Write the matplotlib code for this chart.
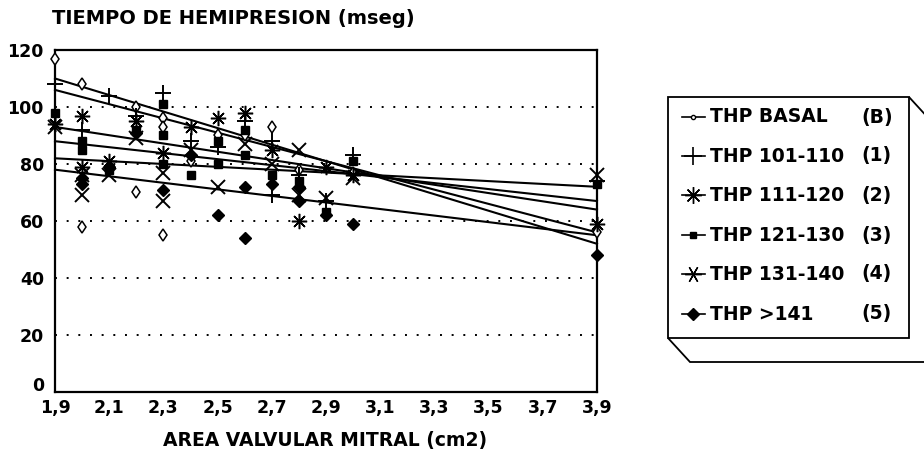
import matplotlib
matplotlib.use('Agg')
import matplotlib.pyplot as plt
import matplotlib.transforms as mtransforms
from matplotlib.lines import Line2D
from matplotlib.patches import Polygon

plt.rcParams['font.family'] = ['DejaVu Sans']

# ---------------- data ----------------
x_ticks = [1.9, 2.1, 2.3, 2.5, 2.7, 2.9, 3.1, 3.3, 3.5, 3.7, 3.9]
x_tick_labels = ['1,9', '2,1', '2,3', '2,5', '2,7', '2,9', '3,1', '3,3', '3,5', '3,7', '3,9']
y_ticks = [0, 20, 40, 60, 80, 100, 120]

series_names = ['THP BASAL', 'THP 101-110', 'THP 111-120', 'THP 121-130', 'THP 131-140', 'THP >141']
series_tags = ['(B)', '(1)', '(2)', '(3)', '(4)', '(5)']

basal_x = [1.9, 2.0, 2.0, 2.2, 2.2, 2.3, 2.3, 2.3, 2.4, 2.5, 2.6, 2.7, 2.8, 3.0, 3.9]
basal_y = [117, 108, 58, 100, 70, 96, 93, 55, 81, 90, 90, 93, 78, 77, 56]

s1_x = [1.9, 2.0, 2.1, 2.2, 2.3, 2.4, 2.5, 2.6, 2.7, 2.7, 2.8, 2.9, 3.0, 3.9]
s1_y = [108, 92, 104, 97, 105, 88, 86, 95, 88, 69, 76, 67, 83, 74]

s2_x = [1.9, 2.0, 2.0, 2.1, 2.2, 2.3, 2.4, 2.5, 2.6, 2.7, 2.8, 2.9, 3.0, 3.9]
s2_y = [94, 97, 79, 81, 95, 84, 93, 96, 98, 85, 60, 79, 76, 59]

s3_x = [1.9, 2.0, 2.0, 2.1, 2.2, 2.3, 2.3, 2.3, 2.4, 2.5, 2.5, 2.6, 2.6, 2.7, 2.8, 2.9, 3.0, 3.9]
s3_y = [98, 88, 85, 78, 92, 101, 90, 80, 76, 80, 88, 83, 92, 76, 74, 63, 81, 73]

s4_x = [1.9, 2.0, 2.0, 2.1, 2.2, 2.3, 2.3, 2.4, 2.5, 2.6, 2.7, 2.8, 2.8, 2.9, 3.0, 3.9]
s4_y = [93, 69, 76, 76, 89, 67, 77, 85, 72, 87, 80, 85, 69, 68, 75, 76]

s5_x = [2.0, 2.0, 2.1, 2.2, 2.3, 2.4, 2.5, 2.6, 2.6, 2.7, 2.8, 2.8, 2.9, 3.0, 3.9]
s5_y = [73, 75, 79, 91, 71, 83, 62, 54, 72, 73, 72, 67, 62, 59, 48]

# regression lines: value at x=1.9 and at x=3.9
trend_x = [1.9, 3.9]
trend_start = [110, 106, 93, 88, 82, 78]
trend_end = [52, 56, 64, 67, 72, 55]

# ---------------- figure ----------------
W, H = 924, 461
fig = plt.figure(figsize=(W / 100, H / 100), dpi=100)


def fx(px):
    return px / W


def fy(py):
    return 1 - py / H


L, R, T, B = 55, 597, 50, 392
ax = fig.add_axes([fx(L), fy(B), fx(R) - fx(L), fy(T) - fy(B)])
ax.set_xlim(1.9, 3.9)
ax.set_ylim(0, 120)

TICK_FS = 12.5
ax.set_xticks(x_ticks)
ax.set_xticklabels(x_tick_labels, fontsize=TICK_FS, fontweight='bold')
ax.set_yticks(y_ticks)
ax.set_yticklabels([str(v) for v in y_ticks], fontsize=TICK_FS, fontweight='bold')
ax.tick_params(length=0)
ax.tick_params(axis='x', pad=5)
ax.tick_params(axis='y', pad=8)
# raise the "0" label slightly, as in the original
zero_lbl = ax.get_yticklabels()[0]
zero_lbl.set_transform(zero_lbl.get_transform() +
                       mtransforms.ScaledTranslation(0, 8 / 100, fig.dpi_scale_trans))

for s in ax.spines.values():
    s.set_linewidth(1.6)

for g in [20, 40, 60, 80, 100]:
    ax.axhline(g, color='black', lw=1.4, ls=(0, (1, 5)), zorder=1)

styles = [
    dict(marker='d', ms=6, mfc='white', mec='black', mew=1.1),
    dict(marker='+', ms=11, mec='black', mew=1.4),
    dict(marker=(8, 2, 0), ms=11, mec='black', mew=1.1),
    dict(marker='s', ms=6, mfc='black', mec='black'),
    dict(marker='x', ms=10, mec='black', mew=1.4),
    dict(marker='D', ms=6.5, mfc='black', mec='black'),
]
xs = [basal_x, s1_x, s2_x, s3_x, s4_x, s5_x]
ys = [basal_y, s1_y, s2_y, s3_y, s4_y, s5_y]

for i in range(6):
    ax.plot(xs[i], ys[i], ls='none', clip_on=False, zorder=3, **styles[i])
    ax.plot(trend_x, [trend_start[i], trend_end[i]], color='black', lw=1.5, zorder=2, clip_on=False)

# titles
fig.text(fx(52), fy(19), 'TIEMPO DE HEMIPRESION (mseg)', fontsize=14, fontweight='bold',
         ha='left', va='center')
fig.text(fx(325), fy(440), 'AREA VALVULAR MITRAL (cm2)', fontsize=13.5, fontweight='bold',
         ha='center', va='center')

# legend box with 3D slab
bx0, bx1, by0, by1 = 668, 909, 97, 338
dx, dy = 22, 24
front = Polygon([(fx(bx0), fy(by0)), (fx(bx1), fy(by0)), (fx(bx1), fy(by1)), (fx(bx0), fy(by1))],
                closed=True, fill=False, ec='black', lw=1.3, transform=fig.transFigure)
slab = Polygon([(fx(bx0), fy(by1)), (fx(bx0 + dx), fy(by1 + dy)), (fx(bx1 + dx), fy(by1 + dy)),
                (fx(bx1 + dx), fy(by0 + dy)), (fx(bx1), fy(by0))],
               closed=False, fill=False, ec='black', lw=1.3, transform=fig.transFigure)
fig.add_artist(front)
fig.add_artist(slab)

rows = [117, 156, 195, 235, 274, 314]
leg_styles = [
    dict(marker='o', ms=3, mfc='white', mec='black', mew=1.0),
    dict(marker='+', ms=13, mec='black', mew=1.2),
    dict(marker=(8, 2, 0), ms=12, mec='black', mew=1.0),
    dict(marker='s', ms=5, mfc='black', mec='black'),
    dict(marker=(6, 2, 90), ms=12, mec='black', mew=1.0),
    dict(marker='D', ms=6, mfc='black', mec='black'),
]
for i, ry in enumerate(rows):
    fig.add_artist(Line2D([fx(682), fx(705)], [fy(ry), fy(ry)], color='black', lw=1.2,
                          transform=fig.transFigure))
    fig.add_artist(Line2D([fx(693)], [fy(ry)], ls='none', transform=fig.transFigure, **leg_styles[i]))
    fig.text(fx(710), fy(ry), series_names[i], fontsize=13.5, fontweight='bold', ha='left', va='center')
    fig.text(fx(861), fy(ry), series_tags[i], fontsize=13.5, fontweight='bold', ha='left', va='center')

fig.savefig('out.png', dpi=100)
